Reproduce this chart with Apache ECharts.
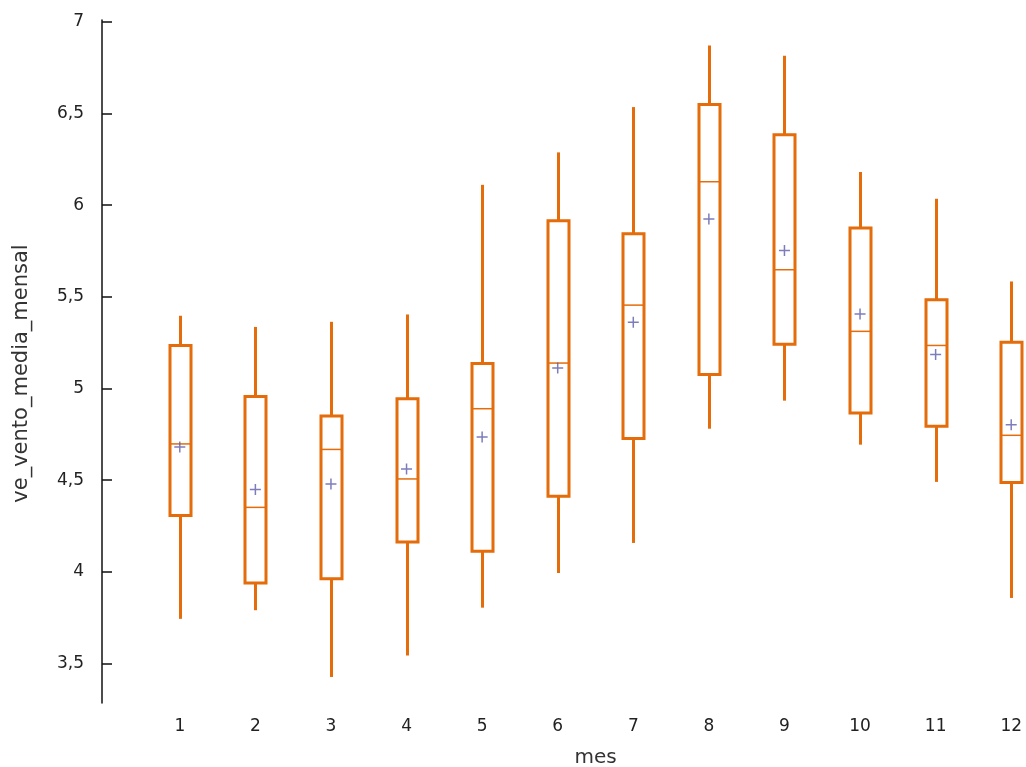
<!DOCTYPE html>
<html>
<head>
<meta charset="utf-8">
<title>ve_vento_media_mensal por mes</title>
<script src="https://cdn.jsdelivr.net/npm/echarts@6/dist/echarts.min.js"></script>
<style>
  html, body { margin: 0; padding: 0; background: #ffffff; }
  #chart { width: 1026px; height: 767px; }
</style>
</head>
<body>
<div id="chart"></div>
<script>
// Months on the category axis
const meses = ['1', '2', '3', '4', '5', '6', '7', '8', '9', '10', '11', '12'];

// Five-number summary per month (monthly mean wind speed)
const whiskerLow  = [3.744, 3.791, 3.427, 3.544, 3.805, 3.994, 4.158, 4.781, 4.934, 4.694, 4.491, 3.858];
const quartil1    = [4.308, 3.940, 3.962, 4.163, 4.112, 4.412, 4.728, 5.077, 5.241, 4.867, 4.794, 4.488];
const mediana     = [4.698, 4.352, 4.668, 4.507, 4.890, 5.139, 5.455, 6.128, 5.648, 5.312, 5.235, 4.745];
const quartil3    = [5.235, 4.957, 4.850, 4.945, 5.136, 5.915, 5.844, 6.549, 6.384, 5.875, 5.484, 5.252];
const whiskerHigh = [5.397, 5.336, 5.364, 5.404, 6.111, 6.288, 6.535, 6.871, 6.815, 6.181, 6.035, 5.584];

// Monthly average, drawn as a "+" marker
const media       = [4.681, 4.449, 4.480, 4.561, 4.736, 5.112, 5.361, 5.924, 5.753, 5.406, 5.186, 4.803];

// Y-axis tick values
const yTicks = [3.5, 4, 4.5, 5, 5.5, 6, 6.5, 7];

const ORANGE = '#e46c0a';
const MEAN_COLOR = '#5c5cab';
const FONT = 'DejaVu Sans';

const boxData = meses.map((m, i) => [i, whiskerLow[i], quartil1[i], mediana[i], quartil3[i], whiskerHigh[i]]);
const meanData = meses.map((m, i) => [i, media[i]]);

const HALF_BOX = 10.5;

function renderBox(params, api) {
  const x = api.value(0);
  const lo = api.coord([x, api.value(1)]);
  const q1 = api.coord([x, api.value(2)]);
  const med = api.coord([x, api.value(3)]);
  const q3 = api.coord([x, api.value(4)]);
  const hi = api.coord([x, api.value(5)]);
  const cx = Math.round(q1[0]) + 0.5;
  return {
    type: 'group',
    children: [
      {
        type: 'line',
        shape: { x1: cx, y1: hi[1], x2: cx, y2: q3[1] },
        style: { stroke: ORANGE, lineWidth: 3 }
      },
      {
        type: 'line',
        shape: { x1: cx, y1: q1[1], x2: cx, y2: lo[1] },
        style: { stroke: ORANGE, lineWidth: 3 }
      },
      {
        type: 'rect',
        shape: { x: cx - HALF_BOX, y: q3[1], width: HALF_BOX * 2, height: q1[1] - q3[1] },
        style: { fill: '#ffffff', stroke: ORANGE, lineWidth: 3 }
      },
      {
        type: 'line',
        shape: { x1: cx - HALF_BOX, y1: med[1], x2: cx + HALF_BOX, y2: med[1] },
        style: { stroke: ORANGE, lineWidth: 1.5 }
      }
    ]
  };
}

const chart = echarts.init(document.getElementById('chart'), null, { renderer: 'canvas' });

chart.setOption({
  animation: false,
  backgroundColor: '#ffffff',
  // the plot area runs past the right edge so that month 12 sits near the border
  grid: {
    left: 142, top: 20, bottom: 64, width: 907,
    containLabel: false,
    outerBoundsMode: 'none'
  },
  xAxis: {
    type: 'category',
    data: meses,
    boundaryGap: true,
    name: 'mes',
    nameLocation: 'middle',
    nameGap: 45,
    nameTextStyle: { fontFamily: FONT, fontSize: 20, color: '#333333' },
    axisLine: { show: false },
    axisTick: { show: false },
    axisLabel: { fontFamily: FONT, fontSize: 17, color: '#222222', margin: 15 },
    splitLine: { show: false }
  },
  yAxis: {
    type: 'value',
    min: 3.285,
    max: 7.01,
    offset: 40,
    name: 've_vento_media_mensal',
    nameLocation: 'middle',
    nameGap: 70,
    nameTextStyle: { fontFamily: FONT, fontSize: 21, color: '#333333', padding: [0, 24, 0, 0] },
    axisLine: { show: true, lineStyle: { color: '#111111', width: 1.5 } },
    axisTick: {
      show: true, inside: true, length: 10,
      customValues: yTicks,
      lineStyle: { color: '#111111', width: 1.5 }
    },
    axisLabel: {
      fontFamily: FONT, fontSize: 17, color: '#222222', margin: 18,
      customValues: yTicks,
      formatter: v => String(v).replace('.', ',')
    },
    splitLine: { show: false }
  },
  series: [
    {
      type: 'custom',
      name: 've_vento_media_mensal',
      renderItem: renderBox,
      encode: { x: 0, y: [1, 2, 3, 4, 5] },
      data: boxData,
      z: 2
    },
    {
      type: 'scatter',
      name: 'média',
      data: meanData,
      symbol: 'path://M0,5L10,5M5,0L5,10',
      symbolSize: 11,
      itemStyle: { color: 'none', borderColor: MEAN_COLOR, borderWidth: 1.5 },
      z: 3
    }
  ]
});
</script>
</body>
</html>
